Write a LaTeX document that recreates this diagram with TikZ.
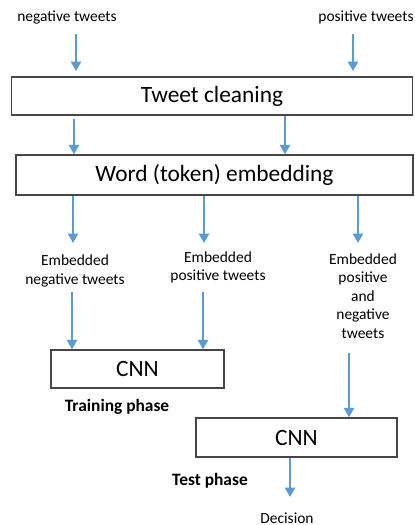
\documentclass[tikz,border=0pt]{standalone}
\usepackage{fontspec}
\setmainfont{Carlito}
\usetikzlibrary{arrows.meta}
\definecolor{arrblue}{RGB}{91,155,213}
\definecolor{boxgray}{RGB}{70,70,70}
\begin{document}
\begin{tikzpicture}[x=0.02cm,y=-0.02cm,
  box/.style={draw=boxgray,line width=0.8pt,inner sep=0pt,fill=white},
  arr/.style={draw=arrblue,line width=1.2pt,-{Triangle[width=5.8pt,length=5.4pt]}},
  small/.style={font=\fontsize{8.8}{10.5}\selectfont,align=center,inner sep=0pt},
  big/.style={font=\fontsize{13.3}{15}\selectfont},
  phase/.style={font=\fontsize{9.9}{12}\selectfont\bfseries,inner sep=0pt}]
\useasboundingbox (0,0) rectangle (414,525);
% texts
\node[small] (neg) at (67,17) {negative tweets};
\node[small] (pos) at (366,17) {positive tweets};
% boxes
\node[box,big,minimum width=8.03cm,minimum height=0.76cm] (clean) at (212,96) {Tweet cleaning};
\node[box,big,minimum width=7.94cm,minimum height=0.80cm] (emb) at (214.5,175) {Word (token) embedding};
\node[small] (en) at (75,271) {Embedded\\negative tweets};
\node[small] (ep) at (218,267.5) {Embedded\\positive tweets};
\node[small] (epn) at (363,296) {Embedded\\positive\\and\\negative\\tweets};
\node[box,big,minimum width=3.46cm,minimum height=0.76cm] (cnn1) at (137.5,369) {CNN};
\node[phase] (train) at (117,407) {Training phase};
\node[box,big,minimum width=4.02cm,minimum height=0.78cm] (cnn2) at (296.5,437.5) {CNN};
\node[phase] (test) at (210,481) {Test phase};
\node[small] (dec) at (287,518) {Decision};
% coordinates for free ends
\coordinate (s1) at (76,34);
\coordinate (e1) at (76,71);
\coordinate (s2) at (353,34);
\coordinate (e2) at (353,71);
\coordinate (s3) at (74,119);
\coordinate (t1) at (73,243);
\coordinate (t2) at (204,243);
\coordinate (t3) at (358,243);
\coordinate (u1) at (72,292);
\coordinate (u2) at (203,292);
\coordinate (u3) at (349,353);
\coordinate (d1) at (290,497);
% arrows
\draw[arr] (s1) -- (e1);
\draw[arr] (s2) -- (e2);
\draw[arr] (s3) -- (emb.north -| s3);
\draw[arr] (clean.south -| 285,0) -- (emb.north -| 285,0);
\draw[arr] (emb.south -| t1) -- (t1);
\draw[arr] (emb.south -| t2) -- (t2);
\draw[arr] (emb.south -| t3) -- (t3);
\draw[arr] (u1) -- (cnn1.north -| u1);
\draw[arr] (u2) -- (cnn1.north -| u2);
\draw[arr] (u3) -- (cnn2.north -| u3);
\draw[arr] (cnn2.south -| d1) -- (d1);
\end{tikzpicture}
\end{document}
